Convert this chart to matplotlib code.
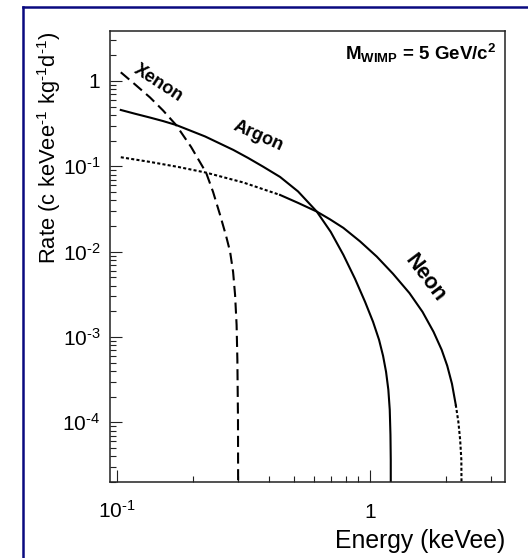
import matplotlib
matplotlib.use('Agg')
import matplotlib.pyplot as plt
from matplotlib.lines import Line2D
from matplotlib.ticker import LogLocator, NullFormatter

plt.rcParams['font.family'] = ['Liberation Sans', 'DejaVu Sans']
plt.rcParams['mathtext.fontset'] = 'custom'
plt.rcParams['mathtext.rm'] = 'Liberation Sans'
plt.rcParams['mathtext.it'] = 'Liberation Sans:italic'
plt.rcParams['mathtext.bf'] = 'Liberation Sans:bold'
plt.rcParams['lines.scale_dashes'] = False

# Recoil spectra (energy in keVee, rate in c/keVee/kg/d)
xenon_e = [0.1037, 0.1181, 0.1353, 0.1523, 0.1714, 0.1965, 0.2252, 0.2400, 0.2557, 0.2701,
           0.2802, 0.2879, 0.2931, 0.2972, 0.2993, 0.3010, 0.3020]
xenon_r = [1.264, 0.910, 0.641, 0.4514, 0.3053, 0.1687, 0.0844, 0.0501, 0.0270, 0.0153,
           0.00995, 0.00580, 0.00312, 0.00139, 5.41e-4, 1.07e-4, 1e-6]

argon_e = [0.1037, 0.1181, 0.1353, 0.1523, 0.1714, 0.2232, 0.2886, 0.3299, 0.3780, 0.4413,
           0.5196, 0.6161, 0.6994, 0.7845, 0.8724, 0.9556, 1.0276, 1.0853, 1.1255, 1.1566,
           1.1809, 1.1961, 1.2038, 1.2071, 1.2082]
argon_r = [0.4575, 0.4130, 0.3727, 0.3392, 0.3053, 0.2239, 0.1556, 0.1254, 0.0992, 0.0751,
           0.0508, 0.0295, 0.01706, 0.00918, 0.004802, 0.002584, 1.507e-3, 9.27e-4, 6.02e-4, 3.91e-4,
           2.41e-4, 1.404e-4, 7.16e-5, 3.65e-5, 1e-6]

neon_e = [0.1037, 0.1353, 0.1746, 0.2252, 0.3152, 0.4413, 0.5196, 0.6161, 0.6952, 0.7845,
          0.9131, 1.0628, 1.2325, 1.4308, 1.6114, 1.7810, 1.9176, 2.0173, 2.1058, 2.1798,
          2.2313, 2.2684, 2.2932, 2.3121]
neon_r = [0.1278, 0.1126, 0.0984, 0.0844, 0.0648, 0.0462, 0.0373, 0.0295, 0.0239, 0.0190,
          0.0132, 0.00876, 0.0055, 0.00327, 0.00197, 1.150e-3, 7.08e-4, 4.60e-4, 2.83e-4, 1.607e-4,
          1.02e-4, 6.25e-5, 3.65e-5, 1e-6]

xtick_vals = [0.1, 1]
xtick_labels = [r'$10^{\text{-1}}$', '1']
ytick_vals = [1e-4, 1e-3, 1e-2, 1e-1, 1]
ytick_labels = [r'$10^{\text{-4}}$', r'$10^{\text{-3}}$', r'$10^{\text{-2}}$', r'$10^{\text{-1}}$', '1']

fig = plt.figure(figsize=(5.28, 5.58), dpi=100)
ax = fig.add_axes([0.2083, 0.1362, 0.7481, 0.8082])

lw = 1.5
ax.plot(xenon_e, xenon_r, color='black', lw=lw, dashes=(8, 4))
ax.plot(argon_e, argon_r, color='black', lw=lw)
# neon: dotted at low energy, solid in the middle, dotted on the final drop
i1 = neon_e.index(0.4413)
i2 = neon_e.index(2.1798)
ax.plot(neon_e[:i1 + 1], neon_r[:i1 + 1], color='black', lw=lw, dashes=(2.2, 1.6))
ax.plot(neon_e[i1:i2 + 1], neon_r[i1:i2 + 1], color='black', lw=lw)
ax.plot(neon_e[i2:], neon_r[i2:], color='black', lw=lw, dashes=(2.2, 1.6))

ax.set_xscale('log')
ax.set_yscale('log')
ax.set_xlim(0.094, 3.41)
ax.set_ylim(2.0e-5, 3.85)

ax.set_xticks(xtick_vals, labels=xtick_labels)
ax.set_yticks(ytick_vals, labels=ytick_labels)
ax.xaxis.set_minor_locator(LogLocator(base=10, subs=range(2, 10), numticks=20))
ax.yaxis.set_minor_locator(LogLocator(base=10, subs=range(2, 10), numticks=20))
ax.xaxis.set_minor_formatter(NullFormatter())
ax.yaxis.set_minor_formatter(NullFormatter())

ax.tick_params(which='both', direction='in', top=False, right=False, width=0.8, color='#222222')
ax.tick_params(which='major', length=8.6, labelsize=15)
ax.tick_params(which='minor', length=4.3)
ax.tick_params(axis='y', which='major', pad=7)
ax.tick_params(axis='x', which='major', pad=26)
for t in ax.xaxis.get_major_ticks():
    t.label1.set_va('baseline')

for s in ax.spines.values():
    s.set_linewidth(1.1)
    s.set_color('#222222')

ax.set_xlabel('Energy (keVee)', fontsize=17.8, loc='right')
ax.xaxis.set_label_coords(1.0, -0.105)
ax.set_ylabel(r'Rate (c keVee$^{\text{-1}}$ kg$^{\text{-1}}$d$^{\text{-1}}$)', fontsize=15.8, loc='top')
ax.yaxis.set_label_coords(-0.12, 1.0)

ax.text(0.146, 0.95, 'Xenon', rotation=-33, fontsize=13, fontweight='bold', ha='center', va='center')
ax.text(0.361, 0.227, 'Argon', rotation=-24, fontsize=13, fontweight='bold', ha='center', va='center')
ax.text(1.648, 0.00493, 'Neon', rotation=-53, fontsize=15.5, fontweight='bold', ha='center', va='center')

ax.text(0.977, 0.951, r'$\mathbf{M}_{\mathbf{WIMP}}$ = 5 GeV/c$^{\mathbf{2}}$', transform=ax.transAxes,
        fontsize=13.5, fontweight='bold', ha='right', va='center')

# navy frame lines on the left and top edges of the canvas
fig.add_artist(Line2D([0.0436, 0.0436], [0.0, 0.988], transform=fig.transFigure, color='#0a0a80', lw=1.8))
fig.add_artist(Line2D([0.0436, 1.0], [0.988, 0.988], transform=fig.transFigure, color='#0a0a80', lw=1.8))

fig.savefig('out.png', dpi=100)
